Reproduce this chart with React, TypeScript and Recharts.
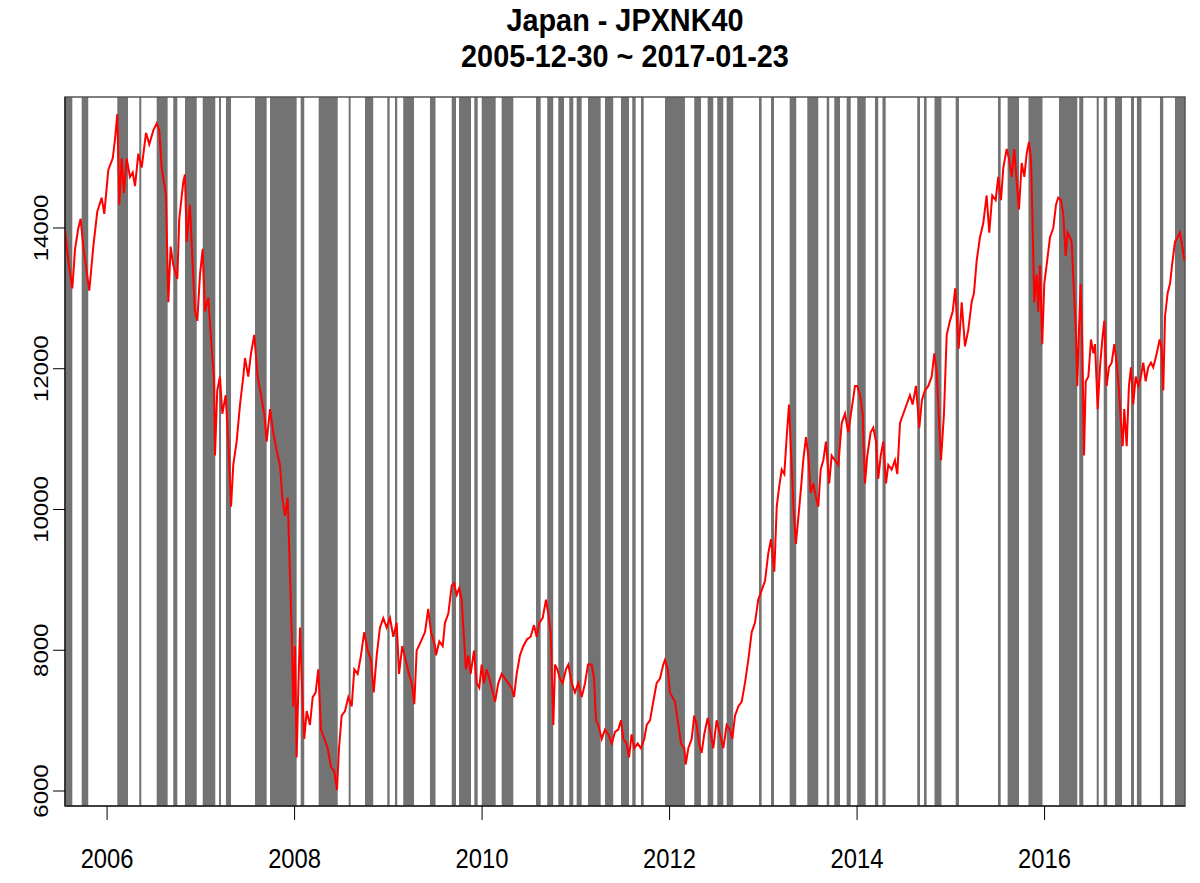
import { LineChart, Line, XAxis, YAxis, ReferenceArea } from "recharts";

// ─── Text ────────────────────────────────────────────────────────────────────

const TITLE = "Japan - JPXNK40";
const SUBTITLE = "2005-12-30 ~ 2017-01-23";

// ─── Axes ────────────────────────────────────────────────────────────────────

const X_TICKS = [2006, 2008, 2010, 2012, 2014, 2016];
const Y_TICKS = [6000, 8000, 10000, 12000, 14000];
const X_DOMAIN: [number, number] = [2005.551, 2017.498];
const Y_DOMAIN: [number, number] = [5787, 15861];

// ─── Shaded regimes (decimal years, start / end) ─────────────────────────────

const BANDS: [number, number][] = [
  [2005.551, 2005.629], [2005.729, 2005.799], [2006.109, 2006.223], [2006.343, 2006.365],
  [2006.529, 2006.646], [2006.706, 2006.749], [2006.831, 2006.956], [2007.02, 2007.154],
  [2007.194, 2007.215], [2007.268, 2007.322], [2007.578, 2007.702], [2007.738, 2008.022],
  [2008.065, 2008.103], [2008.257, 2008.46], [2008.577, 2008.598], [2008.751, 2008.839],
  [2008.989, 2009.014], [2009.071, 2009.095], [2009.159, 2009.274], [2009.444, 2009.503],
  [2009.676, 2009.722], [2009.754, 2009.882], [2009.917, 2009.953], [2009.996, 2010.145],
  [2010.209, 2010.333], [2010.575, 2010.625], [2010.695, 2010.759], [2010.813, 2010.874],
  [2010.93, 2010.973], [2011.009, 2011.062], [2011.13, 2011.265], [2011.311, 2011.399],
  [2011.482, 2011.567], [2011.602, 2011.638], [2011.695, 2011.724], [2011.951, 2012.164],
  [2012.263, 2012.335], [2012.406, 2012.466], [2012.509, 2012.573], [2012.609, 2012.679],
  [2012.954, 2012.982], [2013.082, 2013.114], [2013.281, 2013.351], [2013.469, 2013.586],
  [2013.676, 2013.703], [2013.757, 2013.818], [2013.889, 2013.932], [2014.002, 2014.092],
  [2014.191, 2014.226], [2014.271, 2014.305], [2014.642, 2014.671], [2014.714, 2014.742],
  [2014.826, 2014.9], [2015.052, 2015.087], [2015.503, 2015.532], [2015.606, 2015.727],
  [2015.828, 2015.978], [2016.154, 2016.349], [2016.37, 2016.413], [2016.556, 2016.578],
  [2016.631, 2016.668], [2016.751, 2016.826], [2016.922, 2016.954], [2016.985, 2017.034],
  [2017.231, 2017.266], [2017.391, 2017.498],
];

// ─── Index level, [decimal year, value] ──────────────────────────────────────

const LEVEL_2005_2007: [number, number][] = [
  [2005.551, 13967], [2005.586, 13540], [2005.629, 13140], [2005.658, 13700], [2005.693, 14000],
  [2005.718, 14130], [2005.746, 13735], [2005.81, 13110], [2005.853, 13735], [2005.895, 14230],
  [2005.942, 14430], [2005.97, 14200], [2006.013, 14825], [2006.06, 14990], [2006.084, 15255],
  [2006.109, 15617], [2006.13, 14330], [2006.156, 14990], [2006.18, 14495], [2006.209, 14990],
  [2006.244, 14725], [2006.273, 14790], [2006.298, 14594], [2006.333, 15056], [2006.369, 14858],
  [2006.415, 15353], [2006.45, 15188], [2006.493, 15386], [2006.529, 15485], [2006.557, 15386],
  [2006.582, 14858], [2006.628, 14462], [2006.653, 12944], [2006.678, 13736], [2006.706, 13472],
  [2006.749, 13274], [2006.77, 14132], [2006.813, 14660], [2006.831, 14759], [2006.849, 13802],
  [2006.884, 14330], [2006.913, 13472], [2006.938, 12812], [2006.962, 12680], [2006.991, 13340],
  [2007.02, 13703], [2007.044, 12812], [2007.079, 13010], [2007.116, 12284], [2007.14, 11888],
  [2007.151, 10766], [2007.175, 11690], [2007.204, 11888], [2007.229, 11360], [2007.265, 11624],
  [2007.293, 10964], [2007.322, 10040], [2007.346, 10634], [2007.382, 10964], [2007.418, 11492],
  [2007.453, 11888],
];

const LEVEL_2007_2009: [number, number][] = [
  [2007.471, 12152], [2007.506, 11888], [2007.535, 12218], [2007.57, 12482], [2007.606, 11888],
  [2007.642, 11624], [2007.677, 11360], [2007.702, 10964], [2007.738, 11426], [2007.773, 11096],
  [2007.809, 10832], [2007.844, 10634], [2007.869, 10172], [2007.898, 9908], [2007.926, 10172],
  [2007.944, 9380], [2007.969, 8258], [2007.986, 7202], [2008.004, 8060], [2008.022, 6476],
  [2008.04, 7466], [2008.058, 8324], [2008.082, 7400], [2008.103, 6740], [2008.129, 7136],
  [2008.164, 6938], [2008.193, 7334], [2008.225, 7400], [2008.253, 7730], [2008.282, 6872],
  [2008.317, 6740], [2008.353, 6608], [2008.388, 6344], [2008.424, 6278], [2008.452, 6014],
  [2008.474, 6608], [2008.502, 7070], [2008.538, 7136], [2008.573, 7334], [2008.609, 7202],
  [2008.637, 7730], [2008.673, 7664], [2008.708, 7928], [2008.743, 8258], [2008.78, 7994],
  [2008.815, 7862], [2008.844, 7400], [2008.876, 7928], [2008.911, 8324], [2008.946, 8456],
  [2008.982, 8324], [2009.018, 8456], [2009.053, 8192], [2009.089, 8390], [2009.114, 7664],
  [2009.149, 8060], [2009.185, 7862], [2009.22, 7664], [2009.249, 7532], [2009.277, 7235],
  [2009.302, 7994], [2009.348, 8126], [2009.391, 8258], [2009.426, 8588], [2009.455, 8258],
  [2009.498, 8060],
];

const LEVEL_2009_2011: [number, number][] = [
  [2009.508, 7928], [2009.544, 8126], [2009.58, 8060], [2009.604, 8390], [2009.64, 8522],
  [2009.676, 8918], [2009.7, 8951], [2009.729, 8786], [2009.757, 8885], [2009.782, 8720],
  [2009.8, 8324], [2009.828, 7730], [2009.853, 7928], [2009.878, 7664], [2009.914, 7994],
  [2009.942, 7532], [2009.97, 7466], [2009.996, 7796], [2010.02, 7532], [2010.049, 7730],
  [2010.077, 7598], [2010.102, 7466], [2010.138, 7268], [2010.173, 7532], [2010.209, 7664],
  [2010.244, 7598], [2010.28, 7532], [2010.316, 7466], [2010.34, 7334], [2010.369, 7664],
  [2010.404, 7928], [2010.44, 8060], [2010.482, 8159], [2010.518, 8192], [2010.554, 8357],
  [2010.582, 8192], [2010.61, 8390], [2010.646, 8456], [2010.682, 8720], [2010.706, 8522],
  [2010.732, 8258], [2010.76, 6938], [2010.778, 7796], [2010.802, 7730], [2010.831, 7598],
  [2010.86, 7532], [2010.895, 7730], [2010.92, 7796], [2010.956, 7532], [2010.991, 7400],
  [2011.026, 7532], [2011.063, 7334], [2011.098, 7532], [2011.13, 7796], [2011.169, 7796],
  [2011.194, 7598], [2011.215, 7004], [2011.24, 6938], [2011.276, 6740], [2011.311, 6872],
  [2011.346, 6806], [2011.383, 6674], [2011.418, 6840],
];

const LEVEL_2011_2013: [number, number][] = [
  [2011.453, 6872], [2011.482, 7004], [2011.506, 6740], [2011.542, 6674], [2011.567, 6476],
  [2011.595, 6806], [2011.623, 6608], [2011.66, 6674], [2011.695, 6608], [2011.73, 6740],
  [2011.756, 6938], [2011.791, 7004], [2011.826, 7268], [2011.862, 7532], [2011.898, 7598],
  [2011.933, 7796], [2011.951, 7862], [2011.98, 7730], [2012.004, 7400], [2012.029, 7334],
  [2012.058, 7268], [2012.087, 7004], [2012.122, 6674], [2012.157, 6608], [2012.172, 6377],
  [2012.2, 6608], [2012.236, 6740], [2012.263, 7070], [2012.289, 6938], [2012.314, 6674],
  [2012.342, 6542], [2012.37, 6806], [2012.406, 7037], [2012.431, 6872], [2012.466, 6608],
  [2012.502, 7004], [2012.538, 6806], [2012.573, 6608], [2012.609, 6938], [2012.644, 6872],
  [2012.669, 6740], [2012.698, 7070], [2012.733, 7202], [2012.769, 7268], [2012.804, 7532],
  [2012.84, 7862], [2012.876, 8258], [2012.911, 8390], [2012.946, 8720], [2012.982, 8852],
  [2013.018, 8984], [2013.053, 9380], [2013.082, 9578], [2013.117, 9116], [2013.143, 10040],
  [2013.167, 10304], [2013.196, 10568], [2013.224, 10502], [2013.249, 11030], [2013.274, 11492],
  [2013.295, 10832], [2013.322, 10040], [2013.347, 9512], [2013.375, 9908], [2013.402, 10304],
  [2013.426, 10700],
];

const LEVEL_2013_2015: [number, number][] = [
  [2013.455, 11030], [2013.48, 10766], [2013.505, 10238], [2013.533, 10370], [2013.562, 10172],
  [2013.586, 10040], [2013.612, 10568], [2013.64, 10700], [2013.668, 10964], [2013.703, 10370],
  [2013.729, 10766], [2013.764, 10700], [2013.8, 10634], [2013.836, 11228], [2013.871, 11360],
  [2013.906, 11096], [2013.942, 11426], [2013.978, 11756], [2014.002, 11756], [2014.031, 11624],
  [2014.06, 11360], [2014.084, 10370], [2014.109, 10766], [2014.145, 11096], [2014.173, 11162],
  [2014.202, 10964], [2014.226, 10436], [2014.252, 10766], [2014.28, 10964], [2014.308, 10370],
  [2014.333, 10634], [2014.369, 10568], [2014.404, 10700], [2014.429, 10502], [2014.458, 11228],
  [2014.493, 11360], [2014.529, 11492], [2014.564, 11624], [2014.593, 11492], [2014.628, 11756],
  [2014.664, 11162], [2014.692, 11558], [2014.724, 11690], [2014.76, 11756], [2014.796, 11888],
  [2014.824, 12218], [2014.849, 11954], [2014.895, 10700], [2014.927, 11360], [2014.956, 12482],
  [2014.991, 12680], [2015.02, 12812], [2015.047, 13142], [2015.084, 12284], [2015.116, 12944],
  [2015.151, 12317], [2015.186, 12548], [2015.222, 12944], [2015.247, 13076], [2015.276, 13538],
  [2015.311, 13868], [2015.346, 14066], [2015.382, 14462], [2015.41, 13934],
];

const LEVEL_2015_2017: [number, number][] = [
  [2015.442, 14462], [2015.478, 14396], [2015.506, 14726], [2015.535, 14396], [2015.56, 14858],
  [2015.596, 15122], [2015.62, 14990], [2015.649, 14726], [2015.677, 15122], [2015.702, 14660],
  [2015.727, 14264], [2015.756, 14924], [2015.784, 14726], [2015.809, 15056], [2015.834, 15221],
  [2015.855, 14990], [2015.873, 14000], [2015.89, 12944], [2015.916, 13340], [2015.933, 12812],
  [2015.951, 13472], [2015.975, 12350], [2015.997, 13208], [2016.022, 13472], [2016.058, 13868],
  [2016.093, 14000], [2016.122, 14330], [2016.146, 14429], [2016.175, 14396], [2016.199, 14198],
  [2016.225, 13604], [2016.246, 13934], [2016.271, 13868], [2016.289, 13802], [2016.317, 13010],
  [2016.335, 12482], [2016.349, 11756], [2016.367, 12548], [2016.385, 13208], [2016.403, 12284],
  [2016.421, 10766], [2016.439, 11822], [2016.467, 11888], [2016.495, 12416], [2016.52, 12218],
  [2016.538, 12350], [2016.567, 11426], [2016.591, 12020], [2016.616, 12416], [2016.637, 12680],
  [2016.662, 11756], [2016.687, 12020], [2016.716, 12086], [2016.744, 12350], [2016.769, 12086],
  [2016.794, 11690], [2016.815, 11228], [2016.833, 10898], [2016.85, 11426], [2016.876, 10898],
  [2016.9, 11756], [2016.922, 12020], [2016.946, 11492], [2016.972, 11888], [2017.0, 11756],
  [2017.028, 11888], [2017.053, 12086], [2017.078, 11822], [2017.106, 12020], [2017.135, 12086],
  [2017.159, 12020], [2017.185, 12152], [2017.207, 12284], [2017.228, 12416], [2017.249, 12284],
  [2017.266, 11690], [2017.285, 12746], [2017.313, 13076], [2017.338, 13208], [2017.36, 13472],
  [2017.391, 13802], [2017.42, 13868], [2017.444, 13934], [2017.469, 13736], [2017.491, 13538],
];

// ─── Styling ─────────────────────────────────────────────────────────────────

const FONT = "'Liberation Sans', Arial, sans-serif";
const BAND_FILL = "#737373";
const LINE_RED = "#ff0000";

const series = [
  ...LEVEL_2005_2007,
  ...LEVEL_2007_2009,
  ...LEVEL_2009_2011,
  ...LEVEL_2011_2013,
  ...LEVEL_2013_2015,
  ...LEVEL_2015_2017,
].map(([t, v]) => ({ t, v }));

// R's output here is a bit squeezed sideways, so glyphs get a narrow x scale.
function YTick({ x, y, payload }: { x?: number; y?: number; payload?: { value: number } }) {
  if (x == null || y == null || !payload) return null;
  return (
    <text
      transform={`translate(${x} ${y}) scale(0.85 1) rotate(-90)`}
      textAnchor="middle"
      fontSize={24}
      fontFamily={FONT}
      fill="#000"
    >
      {payload.value}
    </text>
  );
}

function XTick({ x, y, payload }: { x?: number; y?: number; payload?: { value: number } }) {
  if (x == null || y == null || !payload) return null;
  return (
    <text
      transform={`translate(${x} ${y + 46}) scale(0.85 1)`}
      textAnchor="middle"
      fontSize={28}
      fontFamily={FONT}
      fill="#000"
    >
      {payload.value}
    </text>
  );
}

export default function App() {
  return (
    <div style={{ position: "absolute", left: 0, top: 0, width: 1200, height: 883, background: "#fff" }}>
      <div
        style={{
          position: "absolute",
          left: 0,
          top: 3,
          width: 1250,
          textAlign: "center",
          fontFamily: FONT,
          fontWeight: 700,
          fontSize: 31,
          lineHeight: "36px",
          color: "#000",
          transform: "scaleX(0.93)",
          transformOrigin: "625px 0",
        }}
      >
        <div>{TITLE}</div>
        <div>{SUBTITLE}</div>
      </div>

      <LineChart
        width={1200}
        height={883}
        data={series}
        margin={{ top: 97, right: 15, bottom: 17, left: 15 }}
      >
        <XAxis
          dataKey="t"
          type="number"
          domain={X_DOMAIN}
          ticks={X_TICKS}
          allowDataOverflow
          height={60}
          tickSize={14}
          tickMargin={2}
          stroke="#000"
          tick={<XTick />}
        />
        <YAxis
          type="number"
          domain={Y_DOMAIN}
          ticks={Y_TICKS}
          allowDataOverflow
          width={50}
          tickSize={12}
          tickMargin={5}
          stroke="#000"
          tick={<YTick />}
        />

        {BANDS.map(([x1, x2]) => (
          <ReferenceArea
            key={x1}
            x1={x1}
            x2={x2}
            fill={BAND_FILL}
            fillOpacity={1}
            stroke="none"
            ifOverflow="hidden"
          />
        ))}

        <ReferenceArea
          x1={X_DOMAIN[0]}
          x2={X_DOMAIN[1]}
          y1={Y_DOMAIN[0]}
          y2={Y_DOMAIN[1]}
          fill="none"
          stroke="#555"
          strokeWidth={1.5}
        />

        <Line
          dataKey="v"
          type="linear"
          stroke={LINE_RED}
          strokeWidth={2}
          dot={false}
          isAnimationActive={false}
        />
      </LineChart>
    </div>
  );
}
